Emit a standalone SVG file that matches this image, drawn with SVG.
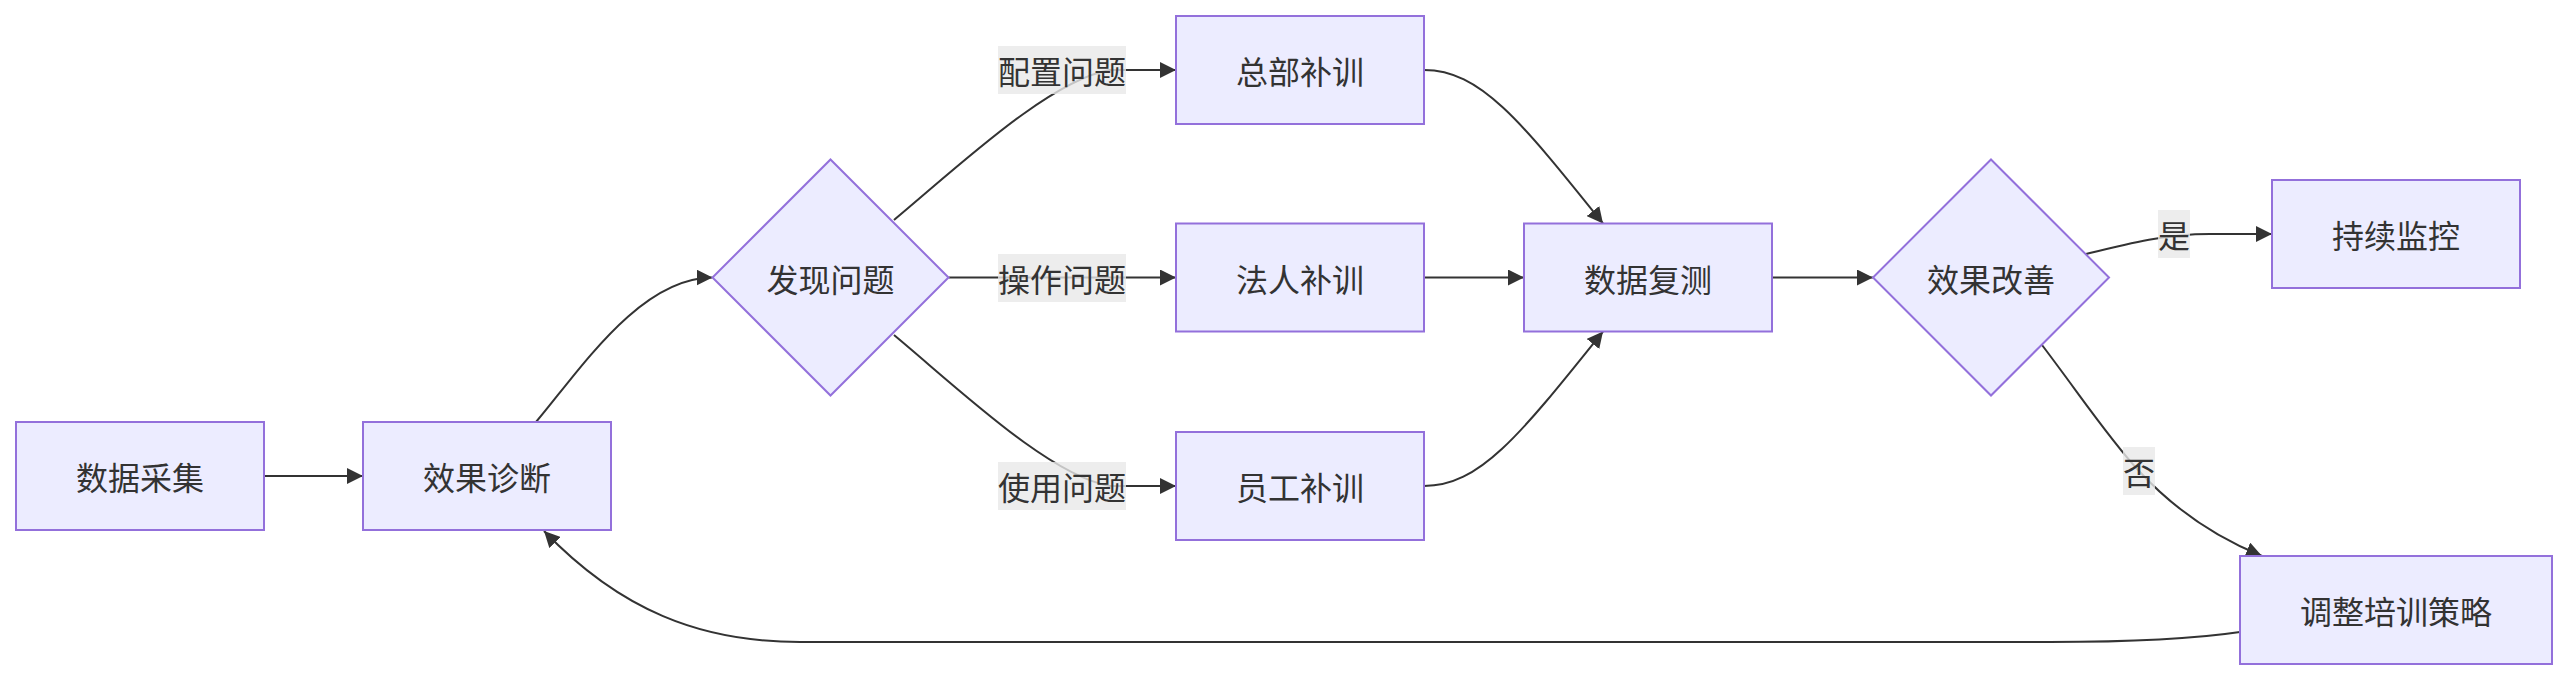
<svg xmlns="http://www.w3.org/2000/svg" width="2568" height="680" viewBox="0 0 2568 680">
<defs>
<marker id="arrow" viewBox="0 0 10 10" refX="10" refY="5" markerUnits="userSpaceOnUse" markerWidth="16" markerHeight="16" orient="auto">
<path d="M0,0 L10,5 L0,10 z" fill="#333333"/>
</marker>
<style>
.node rect, .node polygon { fill: #ECECFF; stroke: #9370DB; stroke-width: 2; }
.node text, .label text { font-family: "Noto Sans CJK SC", "Noto Sans", sans-serif; font-size: 32px; fill: #333333; text-anchor: middle; dominant-baseline: central; }
.edges path { fill: none; stroke: #333333; stroke-width: 2; marker-end: url(#arrow); }
.label rect { fill: #e8e8e8; fill-opacity: 0.8; }
</style>
</defs>
<rect width="2568" height="680" fill="#ffffff"/>
<g id="edges" class="edges">
<path d="M264,476 L363,476"/>
<path d="M536,422 C580,370 640,277.5 712.5,277.5"/>
<path d="M894,220 C960,165 1050,80 1110,70 L1176,70"/>
<path d="M948.5,277.5 L1176,277.5"/>
<path d="M894,335 C960,390 1050,476 1110,486 L1176,486"/>
<path d="M1424,70 C1480,70 1520,120 1603,223.5"/>
<path d="M1424,277.5 L1524,277.5"/>
<path d="M1424,486 C1480,486 1520,435 1603,331.5"/>
<path d="M1772,277.5 L1873,277.5"/>
<path d="M2086,254 C2130,243 2165,234 2210,234 L2272,234"/>
<path d="M2042,345 C2080,395 2110,440 2139,471 C2175,510 2215,537 2262,556"/>
<path d="M2240,632 C2200,638 2150,642 2050,642 L800,642 C700,642 620,610 544,531"/>
</g>
<g id="edge-labels">
<g class="label" id="label-config"><rect x="998" y="46" width="128" height="48"/><text x="1062" y="70">配置问题</text></g>
<g class="label" id="label-operate"><rect x="998" y="254" width="128" height="48"/><text x="1062" y="278">操作问题</text></g>
<g class="label" id="label-use"><rect x="998" y="462" width="128" height="48"/><text x="1062" y="486">使用问题</text></g>
<g class="label" id="label-yes"><rect x="2158" y="210" width="32" height="48"/><text x="2174" y="234">是</text></g>
<g class="label" id="label-no"><rect x="2123" y="447" width="32" height="48"/><text x="2139" y="471">否</text></g>
</g>
<g id="node-A" class="node"><rect x="16" y="422" width="248" height="108"/><text x="140" y="476">数据采集</text></g>
<g id="node-B" class="node"><rect x="363" y="422" width="248" height="108"/><text x="487" y="476">效果诊断</text></g>
<g id="node-C" class="node"><polygon points="830.5,159.5 948.5,277.5 830.5,395.5 712.5,277.5"/><text x="830.5" y="277.5">发现问题</text></g>
<g id="node-D" class="node"><rect x="1176" y="16" width="248" height="108"/><text x="1300" y="70">总部补训</text></g>
<g id="node-E" class="node"><rect x="1176" y="223.5" width="248" height="108"/><text x="1300" y="277.5">法人补训</text></g>
<g id="node-F" class="node"><rect x="1176" y="432" width="248" height="108"/><text x="1300" y="486">员工补训</text></g>
<g id="node-G" class="node"><rect x="1524" y="223.5" width="248" height="108"/><text x="1648" y="277.5">数据复测</text></g>
<g id="node-H" class="node"><polygon points="1991,159.5 2109,277.5 1991,395.5 1873,277.5"/><text x="1991" y="277.5">效果改善</text></g>
<g id="node-I" class="node"><rect x="2272" y="180" width="248" height="108"/><text x="2396" y="234">持续监控</text></g>
<g id="node-J" class="node"><rect x="2240" y="556" width="312" height="108"/><text x="2396" y="610">调整培训策略</text></g>
</svg>
